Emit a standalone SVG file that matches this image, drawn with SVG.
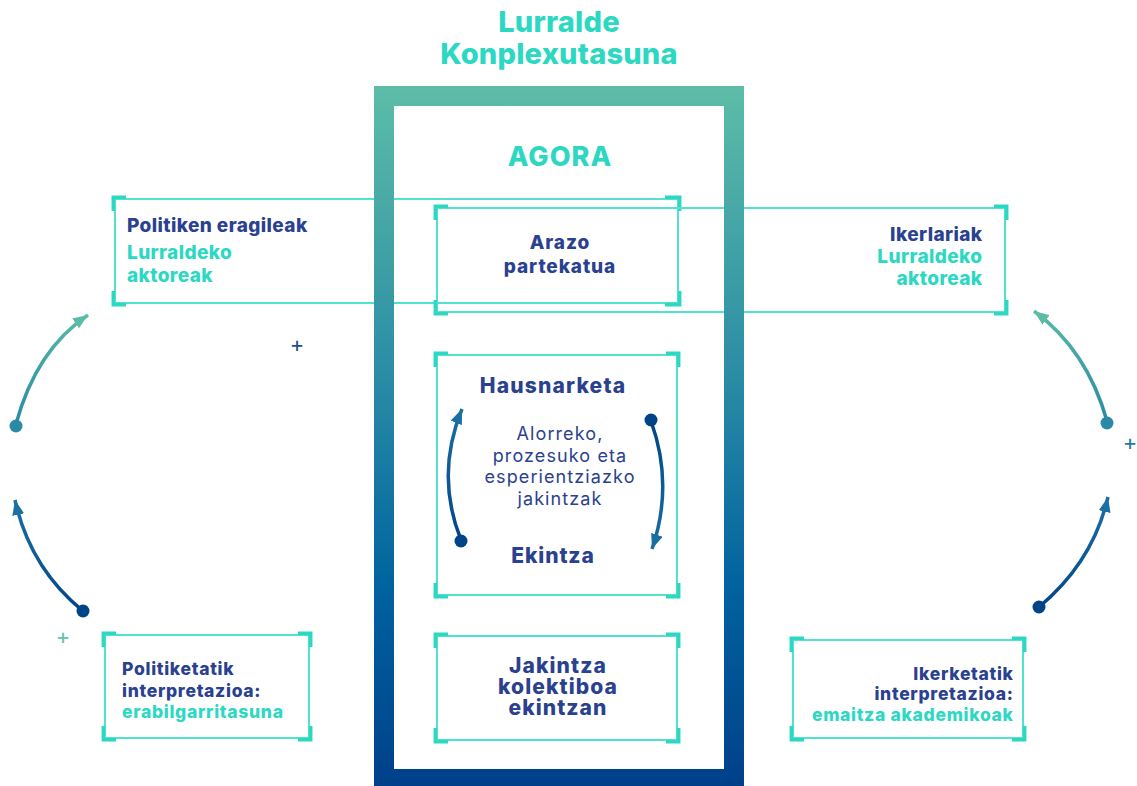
<svg xmlns="http://www.w3.org/2000/svg" width="1137" height="786" viewBox="0 0 1137 786">
<style>
.t{font-family:Inter,"Liberation Sans",sans-serif;}
.b{font-weight:800;}
.navy{fill:#2a418f;}
.turq{fill:#2dd8c3;}
.side{font-size:19px;letter-spacing:0.4px;}
.low{font-size:17.5px;letter-spacing:0.7px;}
.big{font-size:21px;letter-spacing:1.1px;}
.reg{font-size:18px;letter-spacing:1.1px;}
.box{fill:none;stroke:#4fe2cf;stroke-width:2;}
.br{fill:none;stroke:#2dd8c3;stroke-width:3.5;stroke-linecap:butt;}
.arc{fill:none;stroke-width:3.5;}
</style>
<defs>
<linearGradient id="frameG" gradientUnits="userSpaceOnUse" x1="0" y1="86" x2="0" y2="786">
<stop offset="0" stop-color="#5dbda8"/>
<stop offset="0.42" stop-color="#2a8ba5"/>
<stop offset="0.72" stop-color="#00629f"/>
<stop offset="1" stop-color="#00408a"/>
</linearGradient>
<linearGradient id="gUL" gradientUnits="userSpaceOnUse" x1="16" y1="426" x2="88" y2="315"><stop offset="0" stop-color="#2a8aa5"/><stop offset="1" stop-color="#5cbca8"/></linearGradient>
<linearGradient id="gLL" gradientUnits="userSpaceOnUse" x1="83" y1="612" x2="15" y2="500"><stop offset="0" stop-color="#004488"/><stop offset="1" stop-color="#1a6fa3"/></linearGradient>
<linearGradient id="gUR" gradientUnits="userSpaceOnUse" x1="1107" y1="423" x2="1034" y2="311"><stop offset="0" stop-color="#2a8aa5"/><stop offset="1" stop-color="#5cbca8"/></linearGradient>
<linearGradient id="gLR" gradientUnits="userSpaceOnUse" x1="1039" y1="608" x2="1108" y2="497"><stop offset="0" stop-color="#004488"/><stop offset="1" stop-color="#1a6fa3"/></linearGradient>
<linearGradient id="gIL" gradientUnits="userSpaceOnUse" x1="461" y1="541" x2="462" y2="409"><stop offset="0" stop-color="#004488"/><stop offset="1" stop-color="#1a6fa3"/></linearGradient>
<linearGradient id="gIR" gradientUnits="userSpaceOnUse" x1="651" y1="420" x2="652" y2="549"><stop offset="0" stop-color="#004488"/><stop offset="1" stop-color="#1a6fa3"/></linearGradient>
<marker id="ahTeal" viewBox="0 0 15 12" refX="15" refY="6" markerWidth="15" markerHeight="12" markerUnits="userSpaceOnUse" orient="auto"><path d="M0,0 L15,6 L0,12 z" fill="#5cbca8"/></marker>
<marker id="ahBlue" viewBox="0 0 15 12" refX="15" refY="6" markerWidth="15" markerHeight="12" markerUnits="userSpaceOnUse" orient="auto"><path d="M0,0 L15,6 L0,12 z" fill="#1a6fa3"/></marker>
</defs>
<rect width="1137" height="786" fill="#ffffff"/>

<g id="title">
<text class="t b turq" x="559" y="32" font-size="29" letter-spacing="0.2" text-anchor="middle">Lurralde</text>
<text class="t b turq" x="559" y="64" font-size="29" letter-spacing="0.2" text-anchor="middle">Konplexutasuna</text>
</g>

<rect x="384" y="96" width="350" height="683" fill="#ffffff"/>

<g id="agora-label">
<text class="t b turq" x="560" y="166" font-size="27" letter-spacing="1" text-anchor="middle">AGORA</text>
</g>

<g id="politiken-eragileak">
<rect class="box" x="115" y="199" width="563" height="104"/>
<path class="br" d="M113.3,211 V197.3 H126 M665,197.3 H679.7 V211 M113.3,291 V304.7 H126 M665,304.7 H679.7 V291"/>
<text class="t b navy side" x="127" y="232">Politiken eragileak</text>
<text class="t b turq side" x="127" y="259">Lurraldeko</text>
<text class="t b turq side" x="127" y="282">aktoreak</text>
</g>

<g id="ikerlariak">
<rect class="box" x="437" y="208" width="568" height="104"/>
<path class="br" d="M435.3,220 V206.3 H448 M994,206.3 H1006.7 V220 M435.3,300 V313.7 H448 M994,313.7 H1006.7 V300"/>
<text class="t b navy side" x="982.5" y="241" text-anchor="end">Ikerlariak</text>
<text class="t b turq side" x="982.5" y="263" text-anchor="end">Lurraldeko</text>
<text class="t b turq side" x="982.5" y="285" text-anchor="end">aktoreak</text>
</g>

<g id="arazo-partekatua">
<text class="t b navy" x="560" y="249" font-size="19" letter-spacing="0.9" text-anchor="middle">Arazo</text>
<text class="t b navy" x="560" y="273" font-size="19" letter-spacing="0.9" text-anchor="middle">partekatua</text>
</g>

<g id="hausnarketa">
<rect class="box" x="437" y="355" width="240" height="240"/>
<path class="br" d="M435.3,367 V353.3 H448 M666,353.3 H678.7 V367 M435.3,583 V596.7 H448 M666,596.7 H678.7 V583"/>
<text class="t b navy" x="553" y="393" font-size="21" letter-spacing="1.2" text-anchor="middle">Hausnarketa</text>
<text class="t navy reg" x="560" y="440" text-anchor="middle">Alorreko,</text>
<text class="t navy reg" x="560" y="462" text-anchor="middle">prozesuko eta</text>
<text class="t navy reg" x="560" y="483" text-anchor="middle">esperientziazko</text>
<text class="t navy reg" x="560" y="505" text-anchor="middle">jakintzak</text>
<text class="t b navy" x="553" y="563" font-size="21" letter-spacing="0.9" text-anchor="middle">Ekintza</text>
</g>

<g id="jakintza-kolektiboa">
<rect class="box" x="437" y="636" width="240" height="104"/>
<path class="br" d="M435.3,648 V634.3 H448 M666,634.3 H678.7 V648 M435.3,728 V741.7 H448 M666,741.7 H678.7 V728"/>
<text class="t b navy big" x="558" y="673" text-anchor="middle">Jakintza</text>
<text class="t b navy big" x="558" y="694" text-anchor="middle">kolektiboa</text>
<text class="t b navy big" x="558" y="715" text-anchor="middle">ekintzan</text>
</g>

<g id="politiketatik">
<rect class="box" x="105" y="635" width="204" height="103"/>
<path class="br" d="M103.3,647 V633.3 H116 M298,633.3 H310.7 V647 M103.3,726 V739.7 H116 M298,739.7 H310.7 V726"/>
<text class="t b navy low" x="122" y="675">Politiketatik</text>
<text class="t b navy low" x="122" y="697">interpretazioa:</text>
<text class="t b turq low" x="122" y="718">erabilgarritasuna</text>
</g>

<g id="ikerketatik">
<rect class="box" x="793" y="640" width="230" height="98"/>
<path class="br" d="M791.3,652 V638.3 H804 M1012,638.3 H1024.7 V652 M791.3,726 V739.7 H804 M1012,739.7 H1024.7 V726"/>
<text class="t b navy low" x="1013.7" y="680" text-anchor="end">Ikerketatik</text>
<text class="t b navy low" x="1013.7" y="700" text-anchor="end">interpretazioa:</text>
<text class="t b turq low" x="1013.7" y="721" text-anchor="end">emaitza akademikoak</text>
</g>

<rect x="384" y="96" width="350" height="683" fill="none" stroke="url(#frameG)" stroke-width="20"/>

<g id="connectors">
<path class="arc" stroke="url(#gUL)" d="M16,424 Q36,350 88,315" marker-end="url(#ahTeal)"/>
<circle cx="16" cy="426" r="6.5" fill="#2a8aa5"/>
<path class="arc" stroke="url(#gLL)" d="M83,611 Q30,568 15,500" marker-end="url(#ahBlue)"/>
<circle cx="83" cy="611" r="6.5" fill="#004488"/>
<path class="arc" stroke="url(#gUR)" d="M1107,421 Q1087,350 1034,311" marker-end="url(#ahTeal)"/>
<circle cx="1107" cy="423" r="6.5" fill="#2a8aa5"/>
<path class="arc" stroke="url(#gLR)" d="M1039,607 Q1093,562 1108,497" marker-end="url(#ahBlue)"/>
<circle cx="1039" cy="607" r="6.5" fill="#004488"/>
<path class="arc" stroke="url(#gIL)" d="M461,540 Q435,475 462,409" marker-end="url(#ahBlue)"/>
<circle cx="461" cy="541" r="6.5" fill="#004488"/>
<path class="arc" stroke="url(#gIR)" d="M651,421 Q674,485 652,549" marker-end="url(#ahBlue)"/>
<circle cx="651" cy="420" r="6.5" fill="#004488"/>
</g>

<g id="plus-signs">
<text class="t" x="297" y="352" font-size="22" font-weight="400" text-anchor="middle" fill="#1b4f91">+</text>
<text class="t" x="63" y="644" font-size="22" font-weight="400" text-anchor="middle" fill="#5cc4a8">+</text>
<text class="t" x="1130" y="450" font-size="22" font-weight="400" text-anchor="middle" fill="#1e7aa5">+</text>
</g>
</svg>
